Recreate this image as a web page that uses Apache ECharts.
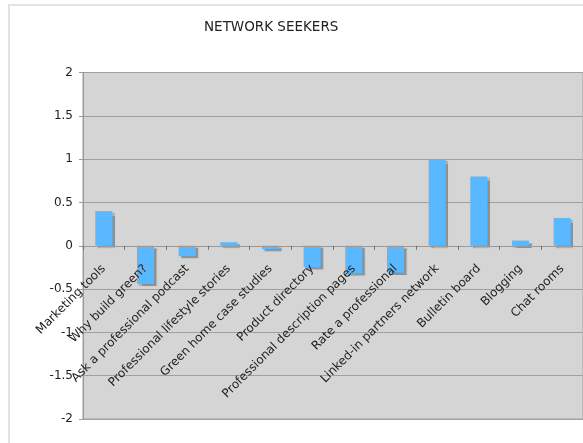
<!DOCTYPE html>
<html>
<head>
<meta charset="utf-8">
<script src="https://cdn.jsdelivr.net/npm/echarts@6/dist/echarts.min.js"></script>
<style>
  html, body { margin: 0; padding: 0; background: #fff; }
  #chart { width: 583px; height: 443px; }
</style>
</head>
<body>
<div id="chart"></div>
<script>
// Survey topics and their scores
const categories = [
  'Marketing tools',
  'Why build green?',
  'Ask a professional podcast',
  'Professional lifestyle stories',
  'Green home case studies',
  'Product directory',
  'Professional description pages',
  'Rate a professional',
  'Linked-in partners network',
  'Bulletin board',
  'Blogging',
  'Chat rooms'
];
const scores = [0.40, -0.44, -0.12, 0.04, -0.04, -0.25, -0.32, -0.31, 1.00, 0.80, 0.06, 0.32];
const yTicks = [-2, -1.5, -1, -0.5, 0, 0.5, 1, 1.5, 2];

const chart = echarts.init(document.getElementById('chart'), null, { renderer: 'canvas' });
const font = 'DejaVu Sans';

// plot box
const gridTop = 72.5;
const gridBottom = 24;
const plotHeight = 443 - gridTop - gridBottom;
// the category axis sits on the zero line, half way up the symmetric value range
const zeroOffset = -plotHeight / 2;

chart.setOption({
  backgroundColor: '#ffffff',
  animation: false,
  title: {
    text: 'NETWORK SEEKERS',
    left: 199,
    top: 15,
    textStyle: { fontFamily: font, fontSize: 13.5, fontWeight: 'normal', color: '#222' }
  },
  graphic: [{
    type: 'rect',
    silent: true,
    z: -1,
    shape: { x: 9, y: 5, width: 620, height: 480 },
    style: { fill: 'none', stroke: '#e2e2e2', lineWidth: 2 }
  }],
  grid: {
    left: 83,
    right: 0,
    top: gridTop,
    bottom: gridBottom,
    containLabel: false,
    outerBoundsMode: 'none',
    show: true,
    backgroundColor: '#d5d5d5',
    borderColor: '#a0a0a0',
    borderWidth: 1
  },
  xAxis: {
    type: 'category',
    data: categories,
    offset: zeroOffset,
    z: 5,
    axisLine: { onZero: false, lineStyle: { color: '#9a9a9a', width: 1 } },
    axisTick: { show: true, length: 4, lineStyle: { color: '#707070' } },
    axisLabel: {
      rotate: 45,
      interval: 0,
      margin: 21,
      hideOverlap: false,
      fontFamily: font,
      fontSize: 12,
      color: '#222'
    },
    splitLine: { show: false }
  },
  yAxis: {
    type: 'value',
    min: yTicks[0],
    max: yTicks[yTicks.length - 1],
    interval: 0.5,
    axisLine: { show: true, lineStyle: { color: '#9a9a9a' } },
    axisTick: { show: true, length: 4, lineStyle: { color: '#9a9a9a' } },
    axisLabel: {
      margin: 10,
      fontFamily: font,
      fontSize: 12,
      color: '#222'
    },
    splitLine: { show: true, lineStyle: { color: '#a0a0a0', width: 1 } }
  },
  series: [{
    type: 'bar',
    data: scores,
    barWidth: '41%',
    itemStyle: {
      color: '#59b8ff',
      shadowColor: 'rgba(120,120,120,0.75)',
      shadowOffsetX: 2.5,
      shadowOffsetY: 2,
      shadowBlur: 1
    }
  }]
});
</script>
</body>
</html>
